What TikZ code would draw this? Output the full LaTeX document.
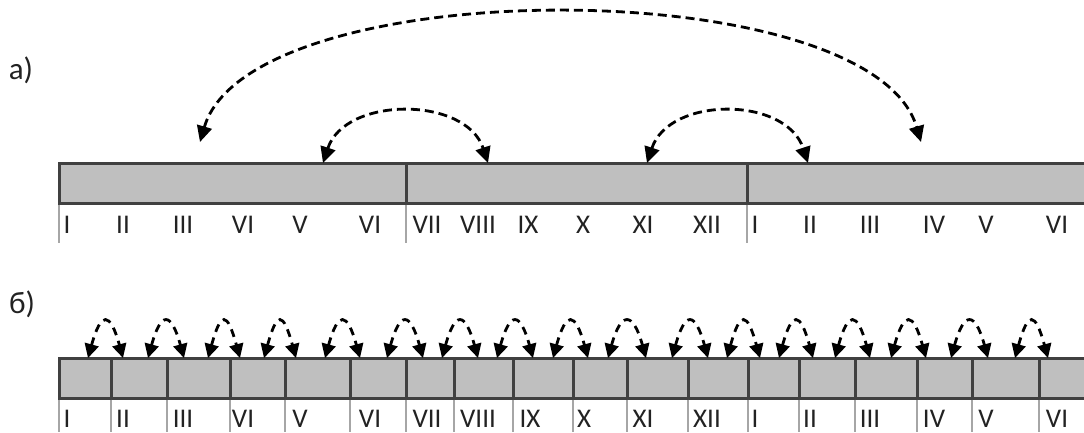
\documentclass[tikz,border=0pt]{standalone}
\usepackage{fontspec}
\setmainfont{Carlito}
\usetikzlibrary{arrows.meta}
\definecolor{barg}{HTML}{BFBFBF}
\definecolor{bard}{HTML}{404040}
\definecolor{tickg}{HTML}{A6A6A6}
\definecolor{txt}{HTML}{222222}
\begin{document}
\begin{tikzpicture}[x=1pt,y=-1pt,
  barfill/.style={fill=barg},
  barline/.style={draw=bard, line width=3pt},
  tickline/.style={draw=tickg, line width=2.5pt},
  lbl/.style={anchor=base, inner sep=0pt, font=\fontsize{27}{27}\selectfont, text=txt},
  partlbl/.style={anchor=base, inner sep=0pt, font=\fontsize{31}{31}\selectfont, text=txt},
  darr/.style={draw=black, line width=2.8pt, dash pattern=on 9pt off 5pt,
    {Triangle[length=16pt,width=15pt]}-{Triangle[length=16pt,width=15pt]}},
  sarr/.style={draw=black, line width=2.8pt, dash pattern=on 8pt off 6pt,
    {Triangle[length=14pt,width=14pt]}-{Triangle[length=14pt,width=14pt]}}
]
\useasboundingbox (0,0) rectangle (1084,432);

% part labels
\node[partlbl] (pa) at (21,79) {a)};
\node[partlbl] (pb) at (22,313) {б)};

% ---------- part a bar ----------
\fill[barfill] (59,163) rectangle (1084,203);
\draw[barline] (1084,163) -- (59,163) -- (59,203) -- (1084,203);
\foreach \x in {406,747} \draw[barline] (\x,163) -- (\x,203);
\foreach \x in {59,406,747} \draw[tickline] (\x,204.5) -- (\x,243);

\foreach \x/\t [count=\i] in {67/I,123/II,183/III,243/VI,300/V,370/VI,427/VII,478/VIII,528/IX,583/X,643/XI,707/XII,755/I,810/II,870/III,934/IV,986/V,1057/VI}
  \node[lbl] (la\i) at (\x,233) {\t};

% arrows a
\coordinate (a1L) at (200,142);
\coordinate (a1R) at (921,142);
\coordinate (a2L) at (323,163);
\coordinate (a2R) at (488,163);
\coordinate (a3L) at (647,163);
\coordinate (a3R) at (808,163);
\draw[darr] (a1L) .. controls +(50,-171) and +(-50,-171) .. (a1R);
\draw[darr] (a2L) .. controls +(22,-67) and +(-22,-67) .. (a2R);
\draw[darr] (a3L) .. controls +(22,-67) and +(-22,-67) .. (a3R);

% ---------- part b bar ----------
\fill[barfill] (59,358) rectangle (1084,398);
\draw[barline] (1084,358) -- (59,358) -- (59,398) -- (1084,398);
\foreach \x in {111,167,230,285,350,406,454,513,573,627,688,748,799,855,917,972,1039}
  \draw[barline] (\x,358) -- (\x,398);
\foreach \x in {59,111,167,230,285,350,406,454,513,573,627,688,748,799,855,917,972,1039}
  \draw[tickline] (\x,399.5) -- (\x,432);

\foreach \x/\t [count=\i] in {67/I,123/II,183/III,243/VI,300/V,370/VI,427/VII,478/VIII,530/IX,584/X,643/XI,707/XII,755/I,810/II,870/III,934/IV,986/V,1057/VI}
  \node[lbl] (lb\i) at (\x,427) {\t};

% arrows b
\foreach \l/\r [count=\i] in {88/123,148/184,208/240,264/296,325/360,387/423,442/478,497/533,553/588,608/646,672/708,727/760,779/813,835/870,891/926,951/988,1015/1048}{
  \coordinate (b\i L) at (\l,358);
  \coordinate (b\i R) at (\r,358);
  \draw[sarr] (b\i L) .. controls +(13,-47) and +(-13,-47) .. (b\i R);
}
\end{tikzpicture}
\end{document}
